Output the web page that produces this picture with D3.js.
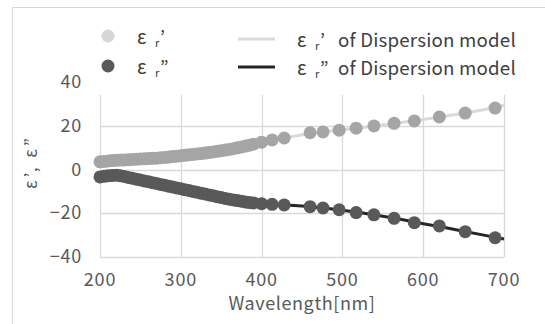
<!DOCTYPE html>
<html>
<head>
<meta charset="utf-8">
<script src="https://cdn.jsdelivr.net/npm/d3@7"></script>
<style>
  body { margin: 0; background: #fff; }
  svg { display: block; font-family: "Noto Sans CJK JP", "Noto Sans", sans-serif; }
</style>
</head>
<body>
<svg id="svg"></svg>
<script>
// measured points (wavelength in nm)
const measWave = [200, 205, 210, 215, 220, 225, 230, 235, 240, 245, 250, 255, 260, 265, 270, 275, 280, 285, 290, 295,
                  300, 305, 310, 315, 320, 325, 330, 335, 340, 345, 350, 355, 360, 365, 370, 375, 380, 385, 390,
                  400, 413, 428, 460, 476, 496, 517, 539, 564, 589, 620, 652, 689];
const epsReal = [3.5, 3.7, 3.9, 4.1, 4.2, 4.3, 4.4, 4.5, 4.6, 4.7, 4.8, 4.9, 5.0, 5.1, 5.2, 5.4, 5.5, 5.7, 5.9, 6.1,
                 6.3, 6.5, 6.7, 6.9, 7.1, 7.3, 7.5, 7.8, 8.0, 8.3, 8.6, 8.9, 9.2, 9.5, 9.9, 10.3, 10.7, 11.1, 11.6,
                 12.5, 13.5, 14.4, 16.8, 17.2, 18.0, 18.9, 19.9, 21.1, 22.2, 24.0, 25.8, 28.1];
const epsImag = [-3.4, -3.1, -2.9, -2.7, -2.6, -2.8, -3.2, -3.6, -4.0, -4.4, -4.8, -5.2, -5.6, -6.0, -6.4, -6.8, -7.2, -7.6, -8.0, -8.4,
                 -8.8, -9.2, -9.6, -10.0, -10.4, -10.8, -11.2, -11.6, -12.0, -12.4, -12.8, -13.2, -13.6, -13.9, -14.2, -14.5, -14.8, -15.1, -15.3,
                 -15.6, -15.9, -16.2, -17.0, -17.6, -18.4, -19.7, -20.7, -22.3, -24.3, -25.8, -28.4, -31.2];

// dispersion model curves
const modelWave = [200, 225, 250, 275, 300, 325, 350, 375, 400, 425, 450, 475, 500, 525, 550, 575, 600, 625, 650, 675, 700];
const modelReal = [3.4, 4.2, 4.8, 5.4, 6.3, 7.3, 8.6, 10.4, 12.4, 14.2, 15.9, 17.1, 18.2, 19.2, 20.4, 21.6, 22.9, 24.2, 25.7, 27.3, 29.4];
const modelImag = [-3.3, -2.7, -4.8, -6.8, -8.8, -10.8, -12.8, -14.5, -15.5, -16.1, -16.7, -17.5, -18.6, -19.9, -21.4, -23.0, -24.8, -26.4, -28.2, -30.0, -31.8];

const xTicks = [200, 300, 400, 500, 600, 700];
const yTicks = [-40, -20, 0, 20, 40];

const layout = {"width": 545, "height": 324,
                "left": 100, "right": 504, "top": 82, "bottom": 257};

const svg = d3.select("#svg")
  .attr("width", layout.width)
  .attr("height", layout.height);

// chart frame
svg.append("rect")
  .attr("x", 12.5).attr("y", 7.5)
  .attr("width", 600).attr("height", 400)
  .attr("fill", "#fff").attr("stroke", "#d9d9d9");

const xScale = d3.scaleLinear().domain([200, 700]).range([layout.left, layout.right]);
const yScale = d3.scaleLinear().domain([-40, 40]).range([layout.bottom, layout.top]);

// grid
svg.append("g").selectAll("line").data(xTicks).join("line")
  .attr("x1", d => Math.round(xScale(d)) + 0.5).attr("x2", d => Math.round(xScale(d)) + 0.5)
  .attr("y1", layout.top).attr("y2", layout.bottom)
  .attr("stroke", "#d9d9d9").attr("stroke-width", 1.3);
svg.append("g").selectAll("line").data(yTicks).join("line")
  .attr("x1", layout.left).attr("x2", layout.right)
  .attr("y1", d => Math.round(yScale(d)) + 0.5).attr("y2", d => Math.round(yScale(d)) + 0.5)
  .attr("stroke", "#d9d9d9").attr("stroke-width", 1.3);

// tick labels
svg.append("g").selectAll("text").data(xTicks).join("text")
  .attr("x", d => xScale(d)).attr("y", 286)
  .attr("text-anchor", "middle").attr("font-size", 18).attr("letter-spacing", 0.8)
  .attr("fill", "#595959")
  .text(d => d);
svg.append("g").selectAll("text").data(yTicks).join("text")
  .attr("x", 82).attr("y", d => yScale(d) + 6)
  .attr("text-anchor", "end").attr("font-size", 18).attr("letter-spacing", 0.8)
  .attr("fill", "#595959")
  .text(d => d < 0 ? "\u2212" + Math.abs(d) : d);

// axis titles
svg.append("text")
  .attr("x", 302).attr("y", 310)
  .attr("text-anchor", "middle").attr("font-size", 18).attr("letter-spacing", 0.6)
  .attr("fill", "#595959")
  .text("Wavelength[nm]");
svg.append("text")
  .attr("transform", "translate(37,162) rotate(-90)")
  .attr("text-anchor", "middle").attr("font-size", 17).attr("letter-spacing", 3)
  .attr("fill", "#595959")
  .text("ε’, ε”");

const line = d3.line().x(d => xScale(d[0])).y(d => yScale(d[1]));

// model lines
svg.append("path")
  .datum(d3.zip(modelWave, modelReal))
  .attr("fill", "none").attr("stroke", "#d9d9d9").attr("stroke-width", 3)
  .attr("d", line);
svg.append("path")
  .datum(d3.zip(modelWave, modelImag))
  .attr("fill", "none").attr("stroke", "#262626").attr("stroke-width", 3)
  .attr("d", line);

// measured points
svg.append("g").selectAll("circle").data(d3.zip(measWave, epsReal)).join("circle")
  .attr("cx", d => xScale(d[0])).attr("cy", d => yScale(d[1]))
  .attr("r", 6.5).attr("fill", "#a5a5a5");
svg.append("g").selectAll("circle").data(d3.zip(measWave, epsImag)).join("circle")
  .attr("cx", d => xScale(d[0])).attr("cy", d => yScale(d[1]))
  .attr("r", 6.5).attr("fill", "#595959");

// legend (white box over the plot top)
const legend = svg.append("g");
legend.append("rect")
  .attr("x", 96).attr("y", 16).attr("width", 430).attr("height", 79)
  .attr("fill", "#fff");

const legendItems = [
  {mark: "circle", color: "#d6d6d6", q: "’", label: "", x: 108, y: 36},
  {mark: "circle", color: "#595959", q: "”", label: "", x: 108, y: 66},
  {mark: "line", color: "#d9d9d9", q: "’", label: "of Dispersion model", x: 238, y: 39},
  {mark: "line", color: "#262626", q: "”", label: "of Dispersion model", x: 238, y: 67}
];

legendItems.forEach(it => {
  if (it.mark === "circle") {
    legend.append("circle").attr("cx", it.x).attr("cy", it.y).attr("r", 6.5).attr("fill", it.color);
  } else {
    legend.append("line").attr("x1", it.x).attr("x2", it.x + 37)
      .attr("y1", it.y).attr("y2", it.y)
      .attr("stroke", it.color).attr("stroke-width", 3);
  }
  const tx = it.mark === "circle" ? 137 : 297;
  const by = it.y + 8;
  const g = legend.append("g").attr("fill", "#404040");
  g.append("text").attr("x", tx).attr("y", by).attr("font-size", 19).text("ε");
  g.append("text").attr("x", tx + 18).attr("y", by + 3).attr("font-size", 11).text("r");
  g.append("text").attr("x", tx + 23).attr("y", by).attr("font-size", 18).text(it.q);
  if (it.label) {
    g.append("text").attr("x", tx + 41).attr("y", by)
      .attr("font-size", 18.7).attr("letter-spacing", 0.2)
      .text(it.label);
  }
});
</script>
</body>
</html>
